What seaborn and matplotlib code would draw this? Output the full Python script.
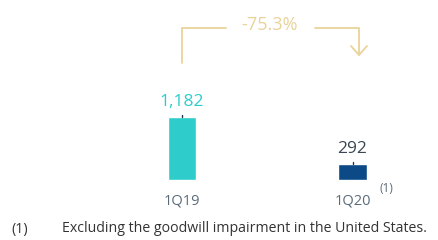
import matplotlib
matplotlib.use("Agg")
import matplotlib.pyplot as plt
import seaborn as sns
import pandas as pd

# data
periods = ["1Q19", "1Q20"]
values = [1182, 292]
value_labels = ["1,182", "292"]
change_label = "-75.3%"
footnote = "Excluding the goodwill impairment in the United States."

bar_colors = ["#2ECDCB", "#0B4A86"]
label_colors = ["#2ECDCB", "#3A4654"]
gold = "#E9D39A"
grey = "#5B6B7B"

sns.set_theme(style="white")
plt.rcParams["font.family"] = ["Open Sans", "DejaVu Sans"]

fig = plt.figure(figsize=(4.38, 2.40), dpi=100)
ax = fig.add_axes([0, 0, 1, 1])

df = pd.DataFrame({"period": periods, "value": values})
sns.barplot(data=df, x="period", y="value", hue="period", palette=bar_colors,
            saturation=1, width=0.165, legend=False, ax=ax)

px_per_unit = 170.5
val_per_px = 1182 / 63
ax.set_xlim(-182 / px_per_unit, (438 - 182) / px_per_unit)
ax.set_ylim(-60 * val_per_px, 180 * val_per_px)
ax.axis("off")

for i, (v, lab) in enumerate(zip(values, value_labels)):
    # small mark on top of bar
    ax.plot([i, i], [v, v + 2.5 * val_per_px], color="#1F3350", lw=1)
    ax.text(i, v + 7.5 * val_per_px, lab, ha="center", va="bottom",
            fontsize=12.5, color=label_colors[i])
    ax.text(i, -13.5 * val_per_px, periods[i], ha="center", va="top",
            fontsize=10.5, color=grey)

ax.text(1.2, -2 * val_per_px, "(1)", ha="center", va="top", fontsize=8.5, color=grey)

# change arrow (figure pixel coords via fig transform)
def fx(x):
    return x / 438

def fy(y):
    return 1 - y / 240

lw = 1.3
fig.add_artist(plt.Line2D([fx(182), fx(182), fx(226)], [fy(63), fy(28), fy(28)],
                          color=gold, lw=lw))
fig.add_artist(plt.Line2D([fx(315), fx(359), fx(359)], [fy(28), fy(28), fy(55)],
                          color=gold, lw=lw))
fig.add_artist(plt.Line2D([fx(351), fx(359), fx(367)], [fy(46), fy(55), fy(46)],
                          color=gold, lw=lw))
fig.text(fx(270), fy(25), change_label, ha="center", va="center",
         fontsize=13, color=gold)

# footnote
fig.text(fx(11), fy(229), "(1)", ha="left", va="center", fontsize=10.2, color="#333333")
fig.text(fx(62), fy(229), footnote, ha="left", va="center", fontsize=10.2, color="#333333")

fig.savefig("out.png", dpi=100)
